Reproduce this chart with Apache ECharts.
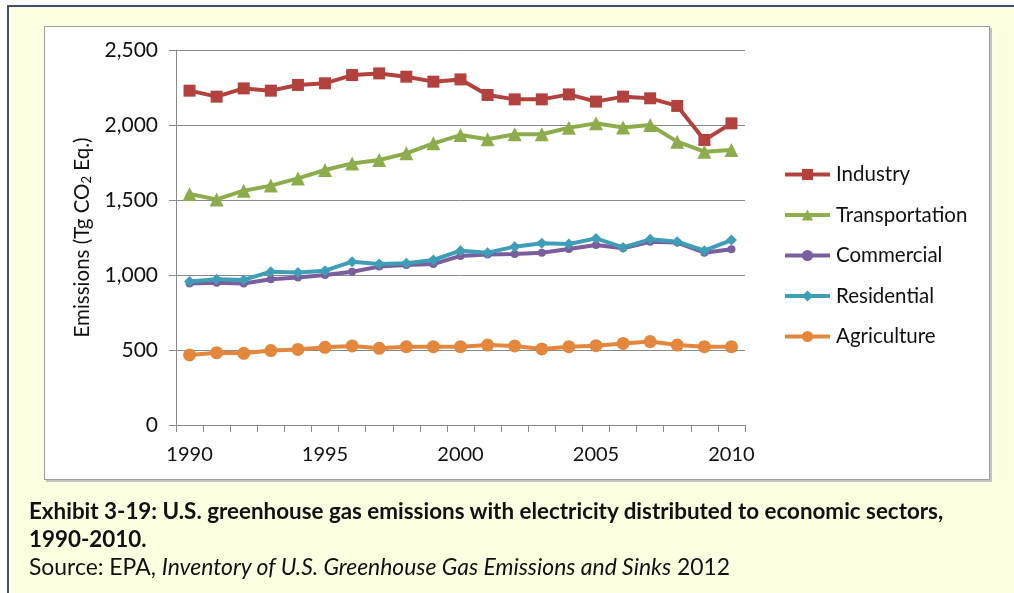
<!DOCTYPE html>
<html>
<head>
<meta charset="utf-8">
<script src="https://cdn.jsdelivr.net/npm/echarts@6/dist/echarts.min.js"></script>
<style>
    body { margin: 0; background: #fff; width: 1014px; height: 593px; overflow: hidden; position: relative; font-family: Lato, 'Open Sans', sans-serif; }
    .outer { position: absolute; left: 7px; top: 5px; width: 1020px; height: 600px; background: #ffffe1; border-left: 2px solid #3e5070; border-top: 2px solid #3e5070; }
    .inner { position: absolute; left: 44px; top: 26px; width: 944px; height: 452px; background: #fff; border: 1px solid #9c9c9c; box-shadow: 2px 2px 0 #c4c4c4; }
    #chart { position: absolute; left: 0; top: 0; width: 1014px; height: 593px; }
    .cap { position: absolute; left: 29px; color: #111; font-size: 22.4px; line-height: 27px; white-space: nowrap; }
</style>
</head>
<body>
<div class="outer"></div>
<div class="inner"></div>
<div id="chart"></div>
<div class="cap" style="top:497px;font-weight:bold">Exhibit 3-19: U.S. greenhouse gas emissions with electricity distributed to economic sectors,</div>
<div class="cap" style="top:525px;font-weight:bold">1990-2010.</div>
<div class="cap" style="top:553px;font-size:22.9px">Source: EPA, <i>Inventory of U.S. Greenhouse Gas Emissions and Sinks</i> 2012</div>
<script>
    const years = ['1990', '1991', '1992', '1993', '1994', '1995', '1996', '1997', '1998', '1999', '2000',
        '2001', '2002', '2003', '2004', '2005', '2006', '2007', '2008', '2009', '2010']
    const industry = [2229, 2189, 2244, 2229, 2267, 2278, 2333, 2344, 2322, 2289, 2304,
        2200, 2171, 2171, 2204, 2156, 2189, 2178, 2127, 1900, 2011]
    const transportation = [1540, 1504, 1562, 1596, 1644, 1700, 1744, 1767, 1811, 1878, 1933,
        1905, 1938, 1938, 1982, 2011, 1984, 2000, 1889, 1822, 1833]
    const commercial = [944, 949, 944, 971, 984, 1000, 1022, 1056, 1067, 1073, 1127,
        1136, 1140, 1149, 1173, 1200, 1178, 1222, 1216, 1149, 1171]
    const residential = [956, 971, 967, 1022, 1016, 1029, 1089, 1073, 1078, 1100, 1162,
        1149, 1189, 1211, 1207, 1244, 1184, 1238, 1222, 1162, 1233]
    const agriculture = [467, 482, 478, 496, 504, 518, 527, 511, 522, 522, 522,
        533, 527, 507, 522, 529, 544, 556, 533, 522, 522]
    const yTicks = [0, 500, 1000, 1500, 2000, 2500]

    const myChart = echarts.init(document.getElementById('chart'))

    function line(name, data, color, symbol, size) {
        return {
            name: name,
            type: 'line',
            data: data,
            symbol: symbol,
            symbolSize: size,
            showAllSymbol: true,
            itemStyle: { color: color },
            lineStyle: { color: color, width: 4 }
        }
    }

    const option = {
        animation: false,
        backgroundColor: 'transparent',
        textStyle: { fontFamily: 'Lato, sans-serif' },
        grid: { left: 176, right: 269, top: 50, bottom: 168 },
        legend: {
            orient: 'vertical',
            left: 783,
            top: 164,
            padding: 0,
            itemWidth: 45,
            itemHeight: 14,
            itemGap: 19.5,
            lineStyle: { width: 4 },
            textStyle: { fontSize: 20.5, color: '#111', padding: [0, 0, 0, 1] }
        },
        xAxis: {
            type: 'category',
            data: years,
            boundaryGap: true,
            axisLine: { lineStyle: { color: '#8a8a8a', width: 1 } },
            axisTick: { show: true, interval: 0, length: 7, lineStyle: { color: '#8a8a8a' } },
            axisLabel: { interval: 4, fontSize: 20, color: '#111', margin: 20 }
        },
        yAxis: {
            type: 'value',
            min: yTicks[0],
            max: yTicks[yTicks.length - 1],
            interval: 500,
            name: '{a|Emissions (Tg CO}{s|2}{a| Eq.)}',
            nameLocation: 'middle',
            nameGap: 73,
            nameTextStyle: {
                rich: {
                    a: { fontSize: 20.5, color: '#111' },
                    s: { fontSize: 13, color: '#111', padding: [9, 0, 0, 0] }
                }
            },
            axisLine: { show: true, lineStyle: { color: '#8a8a8a', width: 1 } },
            axisTick: { show: true, length: 7, lineStyle: { color: '#8a8a8a' } },
            axisLabel: {
                fontSize: 21,
                color: '#111',
                margin: 18,
                formatter: (v) => v.toLocaleString('en-US')
            },
            splitLine: { lineStyle: { color: '#8a8a8a', width: 1 } }
        },
        series: [
            line('Industry', industry, '#b3423f', 'rect', 12),
            line('Transportation', transportation, '#8dad4c', 'triangle', 14),
            line('Commercial', commercial, '#7b5e9d', 'circle', 8),
            line('Residential', residential, '#3f9eb7', 'diamond', 11),
            line('Agriculture', agriculture, '#e3873c', 'circle', 13)
        ]
    }

    myChart.setOption(option)
</script>
</body>
</html>
